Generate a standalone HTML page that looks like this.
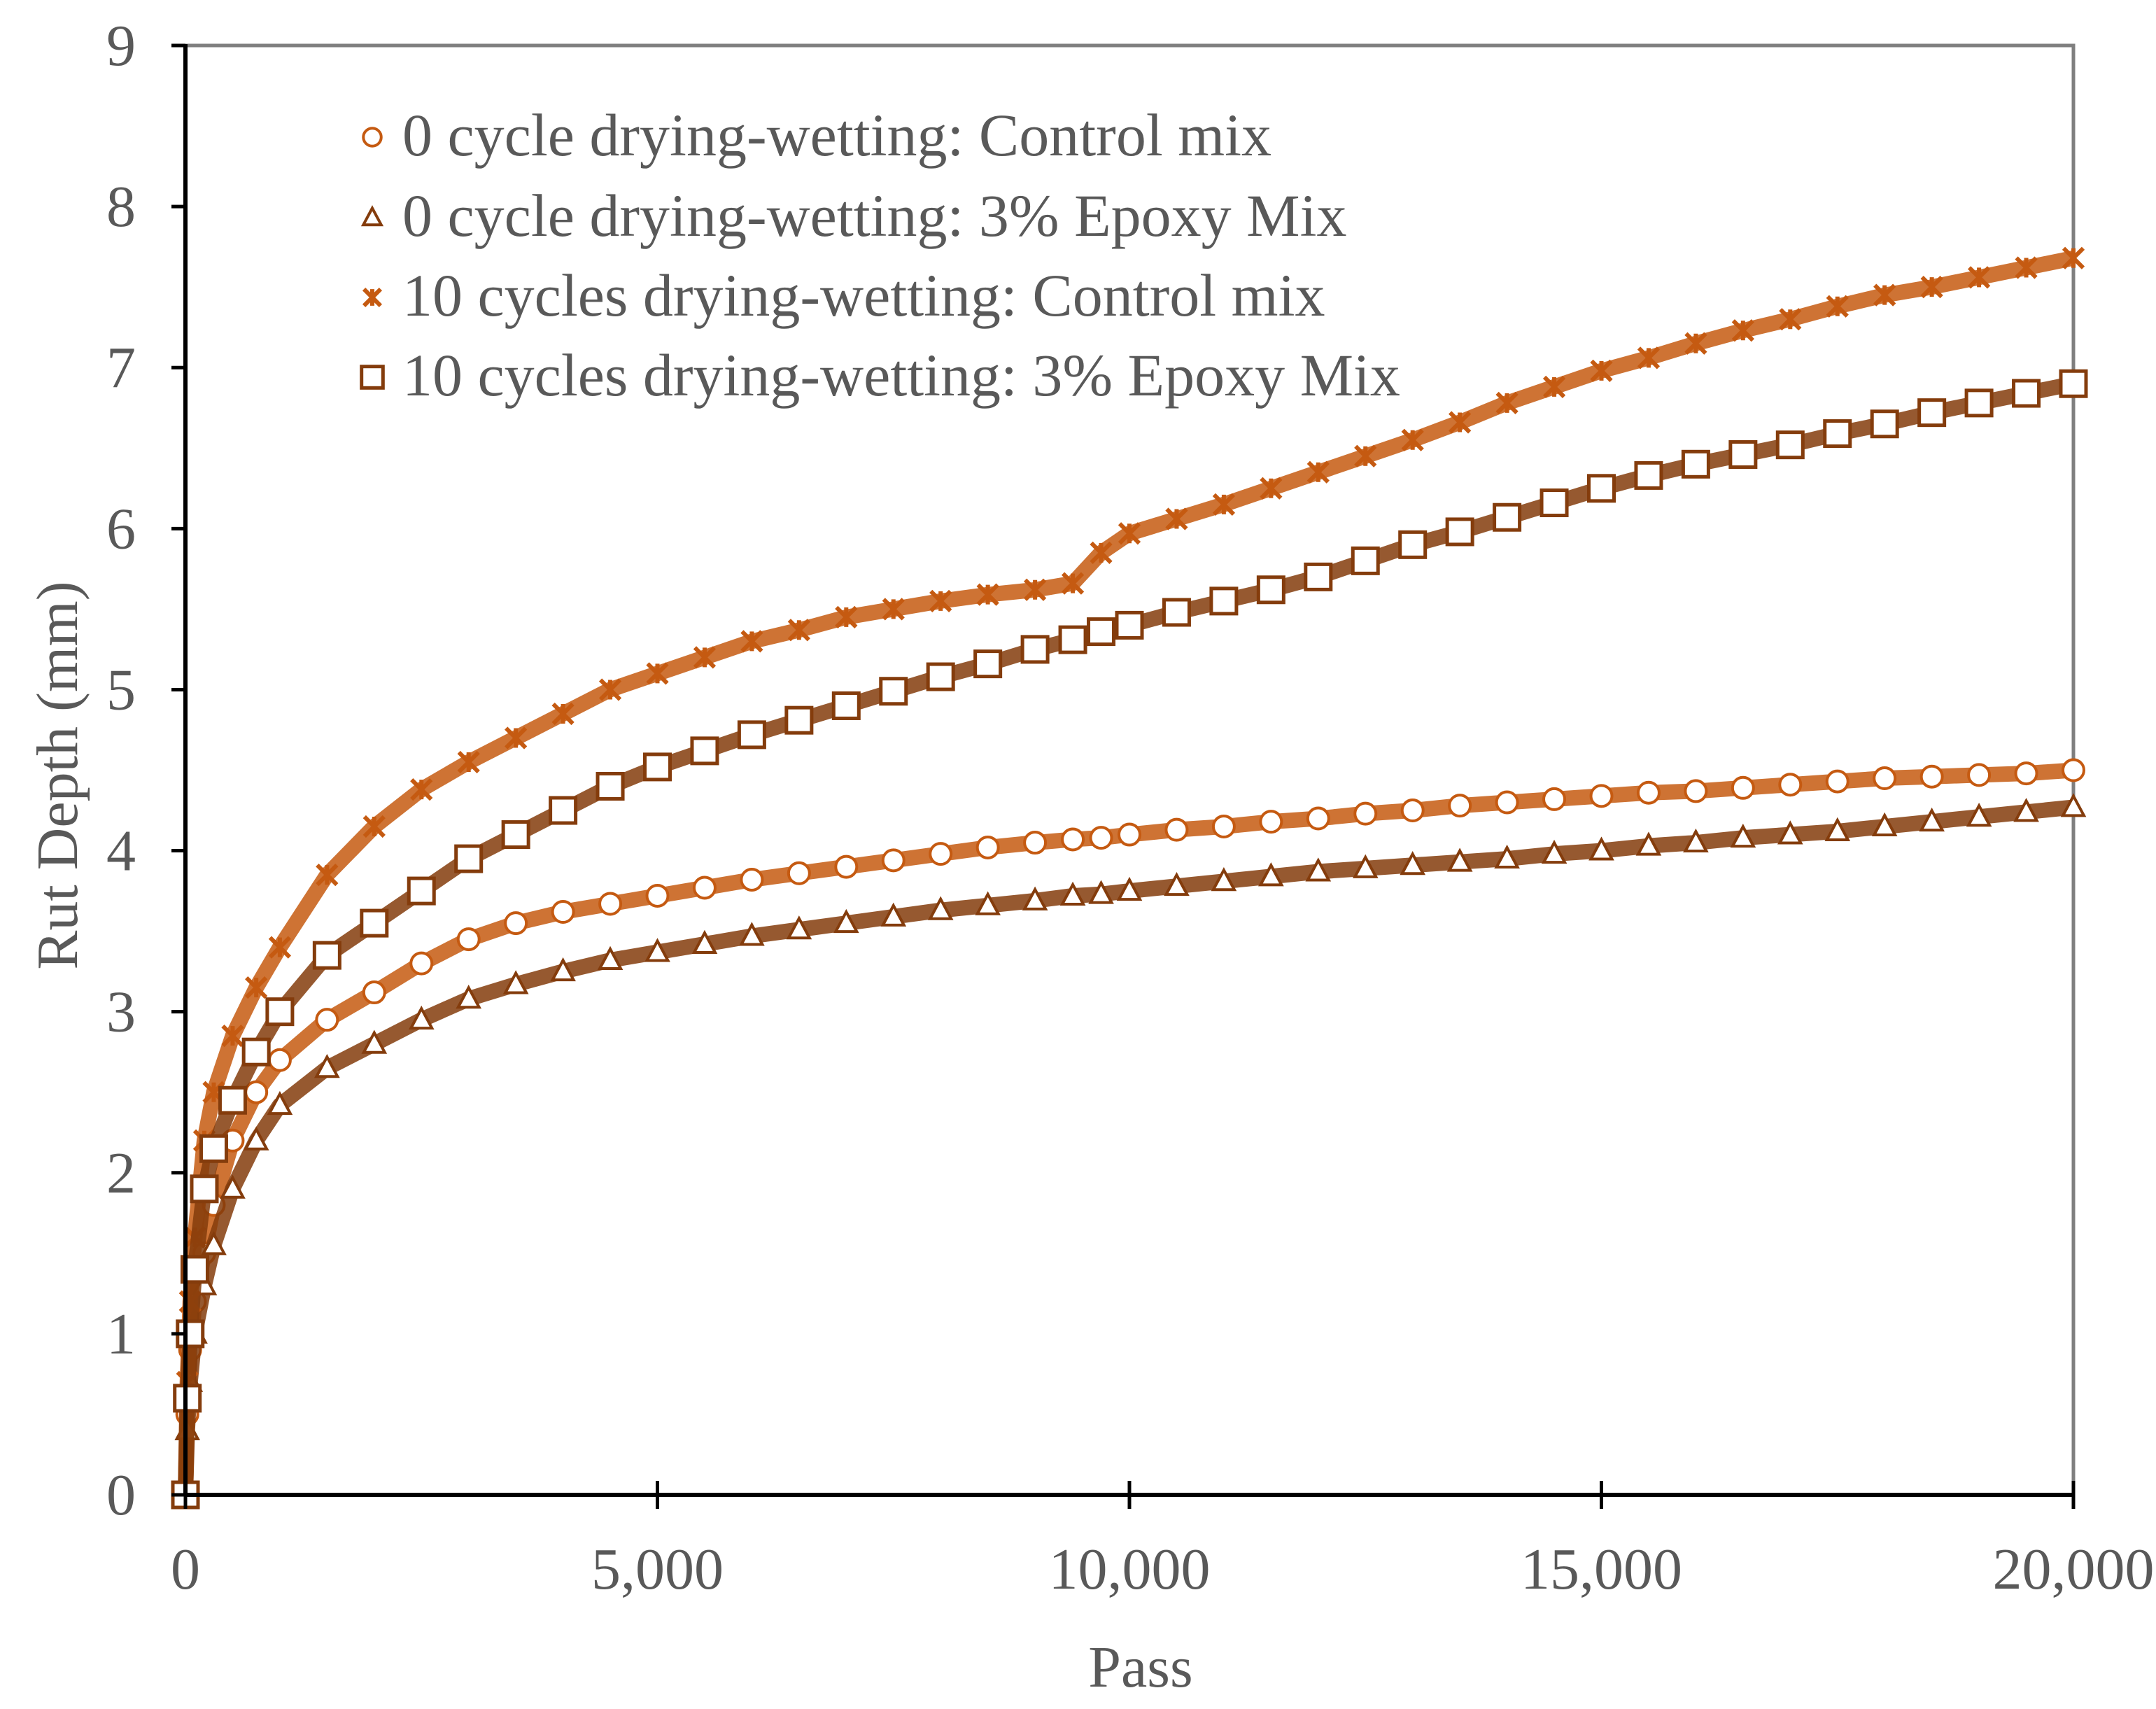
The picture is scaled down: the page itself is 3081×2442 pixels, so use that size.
<!DOCTYPE html>
<html><head><meta charset="utf-8"><style>
html,body{margin:0;padding:0;background:#fff;}
svg{display:block;}
text{font-family:"Liberation Serif",serif;fill:#595959;}
</style></head><body>
<svg id="chart" width="3081" height="2442" viewBox="0 0 3081 2442" xmlns="http://www.w3.org/2000/svg">
<g id="plot"></g>
</svg>
<script>
const passes = [0,20,50,100,200,300,500,750,1000,1500,2000,2500,3000,3500,4000,4500,5000,5500,6000,6500,7000,7500,8000,8500,9000,9400,9700,10000,10500,11000,11500,12000,12500,13000,13500,14000,14500,15000,15500,16000,16500,17000,17500,18000,18500,19000,19500,20000];
const control0 = [0,0.5,0.9,1.2,1.5,1.8,2.2,2.5,2.7,2.95,3.12,3.3,3.45,3.55,3.62,3.67,3.72,3.77,3.82,3.86,3.9,3.94,3.98,4.02,4.05,4.07,4.08,4.1,4.13,4.15,4.18,4.2,4.23,4.25,4.28,4.3,4.32,4.34,4.36,4.37,4.39,4.41,4.43,4.45,4.46,4.47,4.48,4.5];
const epoxy0 = [0,0.4,0.7,1.0,1.3,1.55,1.9,2.2,2.42,2.65,2.8,2.95,3.08,3.17,3.25,3.32,3.37,3.42,3.47,3.51,3.55,3.59,3.63,3.66,3.69,3.72,3.73,3.75,3.78,3.81,3.84,3.87,3.89,3.91,3.93,3.95,3.98,4.0,4.03,4.05,4.08,4.1,4.12,4.15,4.18,4.21,4.24,4.27];
const control10 = [0,0.7,1.2,1.6,2.2,2.5,2.85,3.15,3.4,3.85,4.15,4.38,4.55,4.7,4.85,5.0,5.1,5.2,5.3,5.37,5.45,5.5,5.55,5.59,5.62,5.66,5.85,5.97,6.06,6.15,6.25,6.35,6.45,6.55,6.66,6.78,6.88,6.98,7.06,7.15,7.23,7.3,7.38,7.45,7.5,7.56,7.62,7.68];
const epoxy10 = [0,0.6,1.0,1.4,1.9,2.15,2.45,2.75,3.0,3.35,3.55,3.75,3.95,4.1,4.25,4.4,4.52,4.62,4.72,4.81,4.9,4.99,5.08,5.16,5.25,5.31,5.36,5.4,5.48,5.55,5.62,5.7,5.8,5.9,5.98,6.07,6.16,6.25,6.33,6.4,6.46,6.52,6.59,6.65,6.72,6.78,6.84,6.9];
const xTicks = [0,5000,10000,15000,20000];
const xTickLabels = ["0","5,000","10,000","15,000","20,000"];
const yTicks = [0,1,2,3,4,5,6,7,8,9];
const legendLabels = ["0 cycle drying-wetting: Control mix","0 cycle drying-wetting: 3% Epoxy Mix","10 cycles drying-wetting: Control mix","10 cycles drying-wetting: 3% Epoxy Mix"];

const NS="http://www.w3.org/2000/svg";
const X0=265,X1=2963,Y0=2136,Y1=65;
const xs=v=>X0+v/20000*(X1-X0);
const ys=v=>Y0-v/9*(Y0-Y1);
const plot=document.getElementById('plot');
function mk(tag,attrs,parent){const e=document.createElementNS(NS,tag);for(const k in attrs)e.setAttribute(k,attrs[k]);(parent||plot).appendChild(e);return e;}

const frame=mk('path',{d:`M${X0},${Y1} H${X1} V${Y0}`,fill:'none',stroke:'#7f7f7f','stroke-width':5});



const ORANGE='#C55A11',BROWN='#843C0C';
const series=[
 {vals:control0,color:ORANGE,shape:'circle',name:'series-control-0-cycle'},
 {vals:epoxy0,color:BROWN,shape:'triangle',name:'series-epoxy-0-cycle'},
 {vals:control10,color:ORANGE,shape:'x',name:'series-control-10-cycles'},
 {vals:epoxy10,color:BROWN,shape:'square',name:'series-epoxy-10-cycles'}];
function marker(shape,cx,cy,color,g,s){
 s=s||1;
 if(shape==='circle') return mk('circle',{cx,cy,r:15*s,fill:'#fff',stroke:color,'stroke-width':4},g);
 if(shape==='triangle') return mk('path',{d:`M${cx},${cy-16*s} L${cx+15*s},${cy+12*s} L${cx-15*s},${cy+12*s} Z`,fill:'#fff',stroke:color,'stroke-width':4},g);
 if(shape==='square') return mk('rect',{x:cx-18*s,y:cy-18*s,width:36*s,height:36*s,fill:'#fff',stroke:color,'stroke-width':5},g);
 const a=14*s;
 return mk('path',{d:`M${cx-a},${cy-a} L${cx+a},${cy+a} M${cx+a},${cy-a} L${cx-a},${cy+a} M${cx},${cy-a} V${cy+a}`,fill:'none',stroke:color,'stroke-width':6},g);
}
series.forEach(s=>{
 const g=mk('g',{});
 
 
 const ln=mk('polyline',{points:passes.map((p,i)=>xs(p)+','+ys(s.vals[i])).join(' '),fill:'none',stroke:s.color,'stroke-width':22,'stroke-opacity':0.85,'stroke-linejoin':'round'},g);
 
 
 passes.forEach((p,i)=>{
  const m=marker(s.shape,xs(p),ys(s.vals[i]),s.color,g);
  
  
 });
});

const ya=mk('line',{x1:X0,y1:Y1-2,x2:X0,y2:Y0,stroke:'#000','stroke-width':6});


const xa=mk('line',{x1:X0,y1:Y0,x2:X1,y2:Y0,stroke:'#000','stroke-width':6});


yTicks.forEach(v=>{
 const t=mk('line',{x1:X0-20,y1:ys(v),x2:X0,y2:ys(v),stroke:'#000','stroke-width':5});
 
 
 const l=mk('text',{x:X0-92,y:ys(v)+28,'text-anchor':'middle','font-size':84});
 l.textContent=v;
 
 
});
xTicks.forEach((v,i)=>{
 const t=mk('line',{x1:xs(v),y1:Y0-20,x2:xs(v),y2:Y0+20,stroke:'#000','stroke-width':5});
 
 
 const l=mk('text',{x:xs(v),y:2270,'text-anchor':'middle','font-size':84});
 l.textContent=xTickLabels[i];
 
 
});
const xt=mk('text',{x:1630,y:2410,'text-anchor':'middle','font-size':84});
xt.textContent='Pass';


const yt=mk('text',{x:0,y:0,'text-anchor':'middle','font-size':84,transform:'translate(110,1108) rotate(-90)'});
yt.textContent='Rut Depth (mm)';



const lg=mk('g',{});


const legY=[222,337,451,565];
legendLabels.forEach((txt,i)=>{
 const e=mk('g',{},lg);
 
 
 marker(series[i].shape,532,legY[i]-26,series[i].color,e,0.85);
 const t=mk('text',{x:575,y:legY[i],'font-size':86},e);
 t.textContent=txt;
});
</script>
</body></html>
